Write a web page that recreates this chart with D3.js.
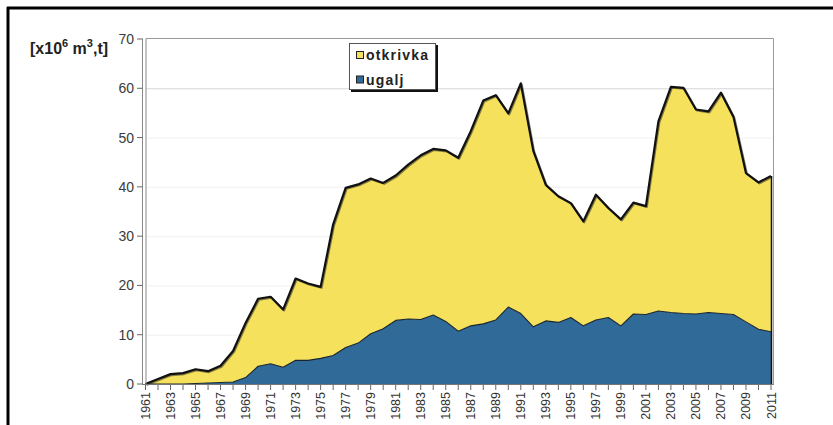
<!DOCTYPE html>
<html><head><meta charset="utf-8">
<script src="https://cdn.jsdelivr.net/npm/d3@7"></script>
<style>
html,body{margin:0;padding:0;background:#fff;}
svg{display:block;}
svg text{font-family:"Liberation Sans",Arial,sans-serif;}
</style></head>
<body>
<svg id="c" width="833" height="425"></svg>
<script>
const years = d3.range(1961, 2012);
// total height of stack (ugalj + otkrivka)
const totalValues = [0,1,2,2.2,3,2.6,3.7,6.7,12.4,17.3,17.7,15.1,21.4,20.4,19.7,32.4,39.8,40.5,41.7,40.8,42.3,44.5,46.4,47.7,47.4,45.9,51.3,57.5,58.6,54.9,61,47.3,40.4,38.1,36.7,33,38.4,35.7,33.4,36.8,36.1,53.3,60.3,60.1,55.7,55.3,59.1,54.2,42.8,40.9,42.2];
const ugaljValues = [0,0,0,0,0.1,0.2,0.3,0.4,1.3,3.6,4.1,3.4,4.8,4.8,5.2,5.8,7.4,8.3,10.2,11.2,12.9,13.2,13.1,14,12.7,10.7,11.8,12.2,13,15.6,14.3,11.6,12.8,12.5,13.5,11.8,13,13.5,11.8,14.2,14.1,14.8,14.5,14.3,14.2,14.5,14.3,14.1,12.6,11.1,10.6];
const otkrivkaValues = totalValues.map((t,i)=>+(t-ugaljValues[i]).toFixed(2));
const seriesNames = ["ugalj","otkrivka"];
const yTicks = [0,10,20,30,40,50,60,70];
const xTickLabels = d3.range(1961, 2012, 2);

const svg = d3.select("#c");
const x = d3.scaleLinear().domain([1961,2011]).range([145.5,771]);
const y = d3.scaleLinear().domain([0,70]).range([384,39]);

// outer frame (top and left)
svg.append("line").attr("x1",7).attr("x2",833).attr("y1",8).attr("y2",8).attr("stroke","#000").attr("stroke-width",3);
svg.append("line").attr("x1",8).attr("x2",8).attr("y1",7).attr("y2",425).attr("stroke","#000").attr("stroke-width",3);

// gridlines
svg.append("g").selectAll("line").data(yTicks.filter(d=>d>0&&d<70)).join("line")
  .attr("x1",146).attr("x2",773).attr("y1",d=>y(d)+0.5).attr("y2",d=>y(d)+0.5)
  .attr("stroke",d=>d===60?"#d6d6d6":"#f0f0f0").attr("stroke-width",1);

// plot frame top and right
svg.append("line").attr("x1",146).attr("x2",773.5).attr("y1",38.5).attr("y2",38.5).attr("stroke","#9a9a9a");
svg.append("line").attr("x1",773.5).attr("x2",773.5).attr("y1",38.5).attr("y2",385).attr("stroke","#9a9a9a");

const data = years.map((yr,i)=>({year:yr, ugalj:ugaljValues[i], otkrivka:otkrivkaValues[i]}));
const stack = d3.stack().keys(seriesNames)(data);
const area = d3.area().x(d=>x(d.data.year)).y0(d=>y(d[0])).y1(d=>y(d[1]));
const colors = {ugalj:"#2f6a99", otkrivka:"#f6e15c"};

svg.append("g").selectAll("path").data(stack).join("path")
  .attr("d",area).attr("fill",d=>colors[d.key]);

// boundary lines
const line = d3.line().x(d=>x(d.data.year)).y(d=>y(d[1]));
const topS = stack[1], botS = stack[0];
svg.append("path").attr("d",line(topS)).attr("transform","translate(1,1)")
  .attr("fill","none").attr("stroke","#3a3a2a").attr("stroke-width",2).attr("stroke-linejoin","round").attr("opacity",0.6);
svg.append("path").attr("d",line(topS)).attr("fill","none").attr("stroke","#111").attr("stroke-width",2.2).attr("stroke-linejoin","round");
svg.append("path").attr("d",line(botS)).attr("fill","none").attr("stroke","#1a2430").attr("stroke-width",1.1).attr("stroke-linejoin","round");
// right edge
svg.append("line").attr("x1",x(2011)+0.5).attr("x2",x(2011)+0.5).attr("y1",y(totalValues[50])).attr("y2",384).attr("stroke","#111").attr("stroke-width",1.5);

// y axis (double line)
svg.append("line").attr("x1",142.5).attr("x2",142.5).attr("y1",38.5).attr("y2",385).attr("stroke","#888");
svg.append("line").attr("x1",146).attr("x2",146).attr("y1",38.5).attr("y2",385).attr("stroke","#888");
const ya = svg.append("g");
ya.selectAll("line").data(yTicks).join("line")
  .attr("x1",137).attr("x2",142.5).attr("y1",d=>y(d)).attr("y2",d=>y(d)).attr("stroke","#666");
ya.selectAll("text").data(yTicks).join("text")
  .attr("x",134).attr("y",d=>y(d)).attr("dy","0.36em").attr("text-anchor","end")
  .attr("font-size",14).attr("fill","#3a3a3a").text(d=>d);

// x axis
svg.append("line").attr("x1",142.5).attr("x2",773.5).attr("y1",384.5).attr("y2",384.5).attr("stroke","#777");
const xa = svg.append("g");
xa.selectAll("line").data(years).join("line")
  .attr("x1",d=>x(d)).attr("x2",d=>x(d)).attr("y1",385).attr("y2",390).attr("stroke","#666");
xa.selectAll("text").data(xTickLabels).join("text")
  .attr("transform",d=>`translate(${x(d)},392) rotate(-90)`)
  .attr("text-anchor","end").attr("dy","0.36em")
  .attr("font-size",12.5).attr("fill","#333").text(d=>d);

// y label
const yl = svg.append("text").attr("x",30).attr("y",54).attr("font-size",16).attr("font-weight","bold").attr("fill","#222");
yl.append("tspan").text("[x10");
yl.append("tspan").attr("dy",-7).attr("font-size",11).text("6");
yl.append("tspan").attr("dy",7).text(" m");
yl.append("tspan").attr("dy",-7).attr("font-size",11).text("3");
yl.append("tspan").attr("dy",7).text(",t]");

// legend
const lg = svg.append("g");
lg.append("rect").attr("x",351).attr("y",45).attr("width",87).attr("height",47).attr("fill","#111");
lg.append("rect").attr("x",349.5).attr("y",43.5).attr("width",86).attr("height",46).attr("fill","#fff").attr("stroke","#555");
const legendItems = [{k:"otkrivka", yy:55}, {k:"ugalj", yy:79.5}];
legendItems.forEach(it=>{
  lg.append("rect").attr("x",356.5).attr("y",it.yy-3.5).attr("width",7).attr("height",7).attr("fill",colors[it.k]).attr("stroke","#222");
  lg.append("text").attr("x",366).attr("y",it.yy).attr("dy","0.36em").attr("font-size",14).attr("font-weight","bold")
    .attr("letter-spacing",1.2).attr("fill","#222").text(it.k);
});
</script>
</body></html>
